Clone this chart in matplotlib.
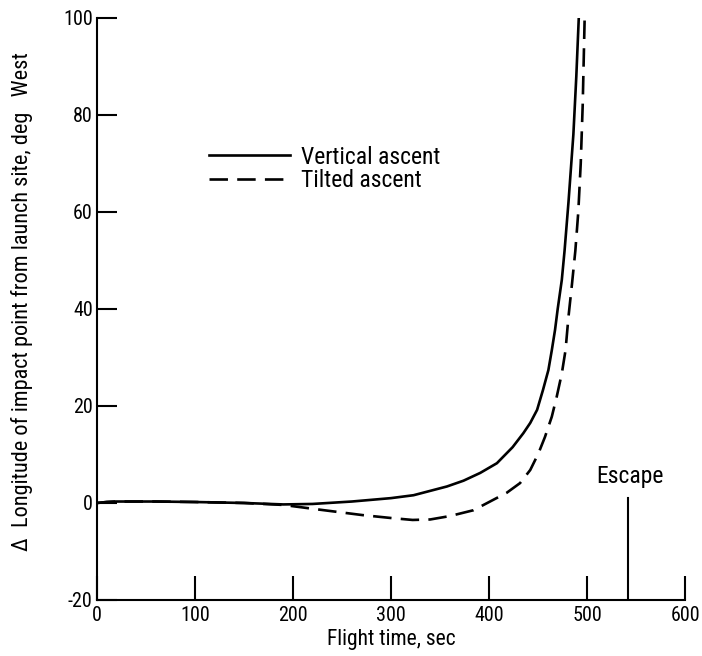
import matplotlib
matplotlib.use("Agg")
import matplotlib.pyplot as plt
from matplotlib import font_manager

# choose a condensed family if available
_names = {f.name for f in font_manager.fontManager.ttflist}
_cands = ['Liberation Sans Narrow', 'DejaVu Sans Condensed', 'Roboto Condensed',
          'Open Sans Condensed', 'Noto Sans', 'Roboto', 'DejaVu Sans']
_fam = [c for c in _cands if c in _names] + ['DejaVu Sans']
plt.rcParams['font.family'] = _fam
_narrow = _fam[0] in ('Liberation Sans Narrow', 'DejaVu Sans Condensed', 'Roboto Condensed', 'Open Sans Condensed')
K = 1.0 if _narrow else 0.88

# Data
vert_t = [0, 10, 20, 60, 100, 150, 190, 220, 260, 300, 323, 340, 357, 374, 391, 408, 424, 435, 442, 449,
          455, 460.5, 464, 467.3, 470, 474.2, 477, 481, 486, 489, 491.5]
vert_y = [0, 0.2, 0.3, 0.3, 0.2, 0.0, -0.3, -0.2, 0.3, 1.0, 1.6, 2.5, 3.4, 4.6, 6.2, 8.2, 11.5, 14.4, 16.5, 19.2,
          23.3, 27.4, 31.5, 35.7, 40.0, 46.0, 52.0, 62.0, 76.0, 88.0, 100.0]

tilt_t = [0, 10, 20, 60, 100, 150, 190, 228, 271, 300, 322, 340, 360, 384, 401, 418, 431.6, 442, 450.3, 457,
          464, 469, 474.2, 478, 481, 484.5, 488, 491, 493.5, 495.5, 497.5]
tilt_y = [0, 0.2, 0.3, 0.3, 0.2, 0.0, -0.4, -1.4, -2.5, -3.1, -3.5, -3.4, -2.7, -1.5, 0.3, 2.1, 4.1, 6.8, 10.2, 13.6,
          17.8, 21.9, 26.7, 31.5, 38.4, 45.0, 52.0, 60.0, 70.0, 82.0, 100.0]

escape_t = 542
escape_top = 1.0

x_ticks = [0, 100, 200, 300, 400, 500, 600]
y_ticks = [-20, 0, 20, 40, 60, 80, 100]

fig = plt.figure(figsize=(7.02, 6.56), dpi=100)
ax = fig.add_axes([0.138, 0.0854, 0.838, 0.8872])

ax.plot(vert_t, vert_y, color='black', lw=1.9, label='Vertical ascent', solid_joinstyle='round')
ax.plot(tilt_t, tilt_y, color='black', lw=1.9, dashes=(7, 3.5), label='Tilted ascent')

ax.plot([escape_t, escape_t], [-20, escape_top], color='black', lw=1.5)
ax.text(escape_t + 2, 5.4, 'Escape', ha='center', va='center', fontsize=17 * K)

ax.set_xlim(0, 600)
ax.set_ylim(-20, 100)
ax.set_xticks(x_ticks)
ax.set_yticks(y_ticks)
ax.set_yticklabels([str(v) for v in y_ticks])
ax.tick_params(axis='x', direction='in', length=17, width=1.5, labelsize=14.5 * K, pad=4)
ax.tick_params(axis='y', direction='in', length=14.5, width=1.5, labelsize=14.5 * K, pad=3)

for s in ['top', 'right']:
    ax.spines[s].set_visible(False)
for s in ['left', 'bottom']:
    ax.spines[s].set_linewidth(1.5)

ax.set_xlabel('Flight time, sec', fontsize=15.5 * K, labelpad=3)
ax.set_ylabel('\u0394  Longitude of impact point from launch site, deg   West', fontsize=16 * K)
ax.yaxis.set_label_coords(-0.108, 0.513)

ax.legend(loc='upper left', bbox_to_anchor=(0.175, 0.797), frameon=False, fontsize=17 * K,
          handlelength=3.4, handletextpad=0.5, labelspacing=0.02, borderaxespad=0)

fig.savefig('out.png', dpi=100)
